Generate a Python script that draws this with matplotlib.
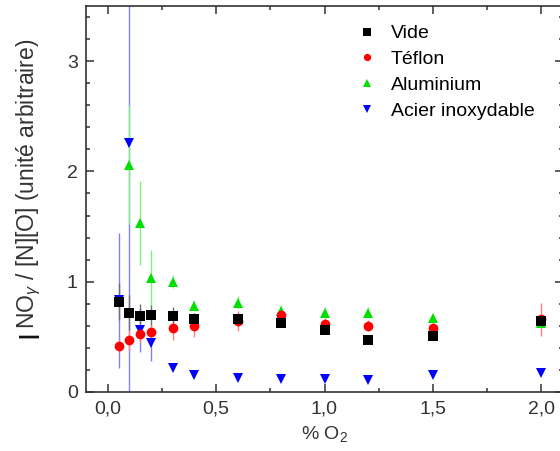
import matplotlib
matplotlib.use('Agg')
import matplotlib.pyplot as plt

plt.rcParams['font.family'] = ['Liberation Sans', 'DejaVu Sans']
plt.rcParams['mathtext.fontset'] = 'custom'
plt.rcParams['mathtext.rm'] = 'Liberation Sans'
plt.rcParams['mathtext.it'] = 'Liberation Sans:italic'

# % O2 in the gas mixture
x_vide = [0.05, 0.1, 0.15, 0.2, 0.3, 0.4, 0.6, 0.8, 1.0, 1.2, 1.5, 2.0]
y_vide = [0.82, 0.72, 0.69, 0.70, 0.69, 0.66, 0.66, 0.63, 0.56, 0.47, 0.51, 0.64]
e_vide = [0.17, 0.16, 0.11, 0.09, 0.08, 0.06, 0.06, 0.04, 0.03, 0.03, 0.03, 0.04]

x_teflon = [0.05, 0.1, 0.15, 0.2, 0.3, 0.4, 0.6, 0.8, 1.0, 1.2, 1.5, 2.0]
y_teflon = [0.42, 0.47, 0.53, 0.54, 0.58, 0.60, 0.64, 0.70, 0.62, 0.60, 0.58, 0.66]
e_teflon = [0.06, 0.09, 0.09, 0.08, 0.11, 0.10, 0.09, 0.06, 0.05, 0.05, 0.05, 0.15]

x_alu = [0.1, 0.15, 0.2, 0.3, 0.4, 0.6, 0.8, 1.0, 1.2, 1.5, 2.0]
y_alu = [2.06, 1.53, 1.03, 1.00, 0.78, 0.81, 0.73, 0.72, 0.72, 0.67, 0.63]
e_alu = [0.54, 0.38, 0.26, 0.06, 0.05, 0.06, 0.06, 0.05, 0.05, 0.04, 0.04]

x_acier = [0.05, 0.1, 0.15, 0.2, 0.3, 0.4, 0.6, 0.8, 1.0, 1.2, 1.5, 2.0]
y_acier = [0.83, 2.26, 0.56, 0.44, 0.22, 0.155, 0.125, 0.12, 0.115, 0.11, 0.155, 0.17]
e_acier = [0.61, 2.6, 0.20, 0.16, 0.02, 0.02, 0.01, 0.01, 0.01, 0.01, 0.01, 0.01]

xticks = [0.0, 0.5, 1.0, 1.5, 2.0]
xtick_labels = ['0,0', '0,5', '1,0', '1,5', '2,0']
yticks = [0, 1, 2, 3]
ytick_labels = ['0', '1', '2', '3']

fig = plt.figure(figsize=(5.6, 4.51), dpi=100)
ax = fig.add_axes([86 / 560, 59 / 451, 477 / 560, 386 / 451])

# series drawn back to front so the black squares end up on top
series = [
    ('Acier inoxydable', x_acier, y_acier, e_acier, 'v', '#0000ff', '#8080ff'),
    ('Aluminium', x_alu, y_alu, e_alu, '^', '#00e000', '#80f080'),
    ('Téflon', x_teflon, y_teflon, e_teflon, 'o', '#ff0000', '#ff8080'),
    ('Vide', x_vide, y_vide, e_vide, 's', '#000000', '#707070'),
]
handles = {}
for name, xs, ys, es, mk, col, ecol in series:
    h = ax.errorbar(xs, ys, yerr=es, fmt=mk, color=col, ecolor=ecol,
                    markersize=7, markeredgewidth=0, elinewidth=1,
                    capsize=3, capthick=1, label=name)
    handles[name] = h

order = ['Vide', 'Téflon', 'Aluminium', 'Acier inoxydable']
ax.legend([handles[n][0] for n in order], order, frameon=False,
          loc='upper left', bbox_to_anchor=(348 / 560, 1 - 15 / 451),
          bbox_transform=fig.transFigure, fontsize=14, borderpad=0,
          handlelength=1.0, handletextpad=0.7, labelspacing=0.42,
          markerscale=0.75)

ax.set_xlim(-0.1, 2.1)
ax.set_ylim(0, 3.5)
ax.set_xticks(xticks)
ax.set_xticklabels(xtick_labels)
ax.set_xticks([0.25, 0.75, 1.25, 1.75], minor=True)
ax.set_yticks(yticks)
ax.set_yticklabels(ytick_labels)
ax.set_yticks([v / 5 for v in range(18) if v % 5], minor=True)

ax.tick_params(which='both', direction='in', top=True, right=True,
               colors='#333333', labelcolor='#333333', width=1.1)
ax.tick_params(which='major', length=6, labelsize=14, pad=6)
ax.tick_params(which='minor', length=3)
for sp in ax.spines.values():
    sp.set_color('#333333')
    sp.set_linewidth(1.2)

ax.set_xlabel('% O$_2$', fontsize=14, color='#333333', labelpad=5)

# y label: large "I" followed by the rest of the quantity
lab_i = fig.text(29 / 560, 1 - 338 / 451, 'I', rotation=90, fontsize=21,
                 color='#111111', ha='center', va='bottom')
ax.annotate('NO$_\\gamma$ / [N][O] (unité arbitraire)', xy=(1, 1),
            xycoords=lab_i, xytext=(0, 1), textcoords='offset points',
            rotation=90, fontsize=16.5, color='#333333',
            ha='right', va='bottom')

fig.savefig('out.png', dpi=100)
